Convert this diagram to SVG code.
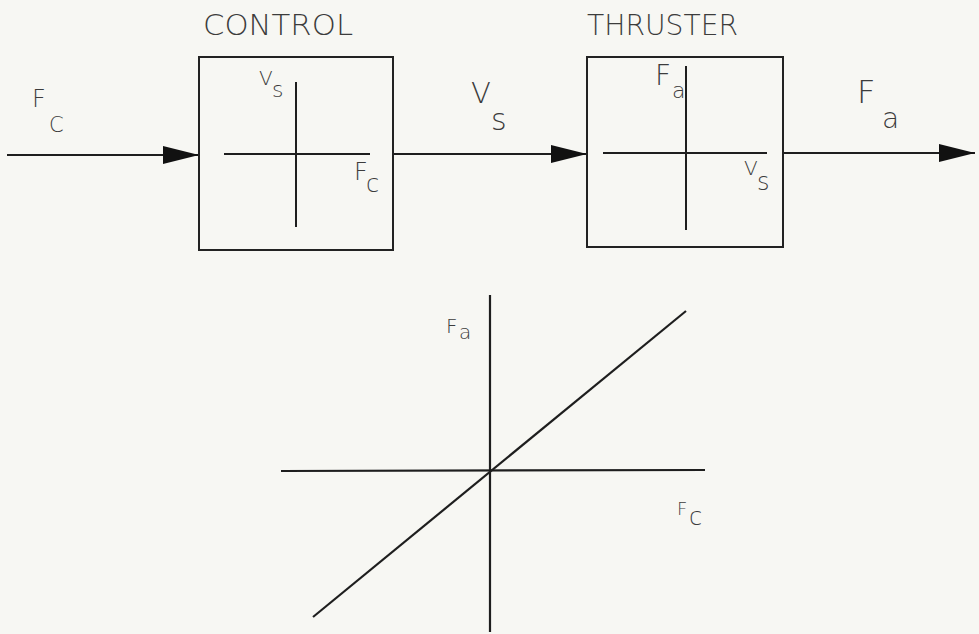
<svg xmlns="http://www.w3.org/2000/svg" width="979" height="634" viewBox="0 0 979 634">
<style>
.ln{stroke:#1e1e1e;stroke-width:2;fill:none}
.ax{stroke:#1e1e1e;stroke-width:2.2;fill:none}
.bx{stroke:#222;stroke-width:2;fill:none}
.t{font-family:"DejaVu Sans","Liberation Sans",Arial,sans-serif;font-weight:200;fill:#3c3c3c}
.big{font-size:28px}
</style>
<defs>
<marker id="ah" markerWidth="36" markerHeight="18" refX="36" refY="9" orient="auto" markerUnits="userSpaceOnUse">
<path d="M0,0 L36,9 L0,18 Z" fill="#111"/>
</marker>
</defs>
<rect width="979" height="634" fill="#f7f7f3"/>
<g id="connectors">
<line class="ln" x1="7" y1="155" x2="199" y2="155" marker-end="url(#ah)"/>
<line class="ln" x1="393" y1="154" x2="587" y2="154" marker-end="url(#ah)"/>
<line class="ln" x1="783" y1="153" x2="975" y2="153" marker-end="url(#ah)"/>
</g>
<g id="input-label">
<text class="t" x="32" y="107" font-size="24">F</text>
<text class="t" x="49" y="132" font-size="21">C</text>
</g>
<g id="control">
<text class="t big" x="203" y="35" textLength="150" lengthAdjust="spacingAndGlyphs">CONTROL</text>
<rect class="bx" x="199" y="57" width="194" height="193"/>
<line class="ln" x1="224" y1="154" x2="370" y2="154"/>
<line class="ln" x1="296" y1="82" x2="296" y2="227"/>
<text class="t" x="259" y="85" font-size="20">V</text>
<text class="t" x="272" y="97" font-size="22">s</text>
<text class="t" x="354" y="180" font-size="24">F</text>
<text class="t" x="366" y="192" font-size="24">c</text>
</g>
<g id="vs-label">
<text class="t" x="471" y="103" font-size="29">V</text>
<text class="t" x="491" y="130" font-size="30">s</text>
</g>
<g id="thruster">
<text class="t big" x="587" y="35" textLength="151" lengthAdjust="spacingAndGlyphs">THRUSTER</text>
<rect class="bx" x="587" y="57" width="196" height="190"/>
<line class="ln" x1="603" y1="153" x2="767" y2="153"/>
<line class="ln" x1="686" y1="66" x2="686" y2="230"/>
<text class="t" x="655" y="85" font-size="28">F</text>
<text class="t" x="672" y="98" font-size="22">a</text>
<text class="t" x="744" y="175" font-size="20">V</text>
<text class="t" x="757" y="190" font-size="24">s</text>
</g>
<g id="output-label">
<text class="t" x="857" y="103" font-size="32">F</text>
<text class="t" x="882" y="128" font-size="28">a</text>
</g>
<g id="graph">
<line class="ax" x1="281" y1="471" x2="705" y2="470"/>
<line class="ax" x1="490" y1="295" x2="490" y2="632"/>
<line class="ax" x1="313" y1="617" x2="686" y2="311"/>
<text class="t" x="446" y="333" font-size="20">F</text>
<text class="t" x="459" y="339" font-size="20">a</text>
<text class="t" x="677" y="515" font-size="18">F</text>
<text class="t" x="689" y="525" font-size="24">c</text>
</g>
</svg>
